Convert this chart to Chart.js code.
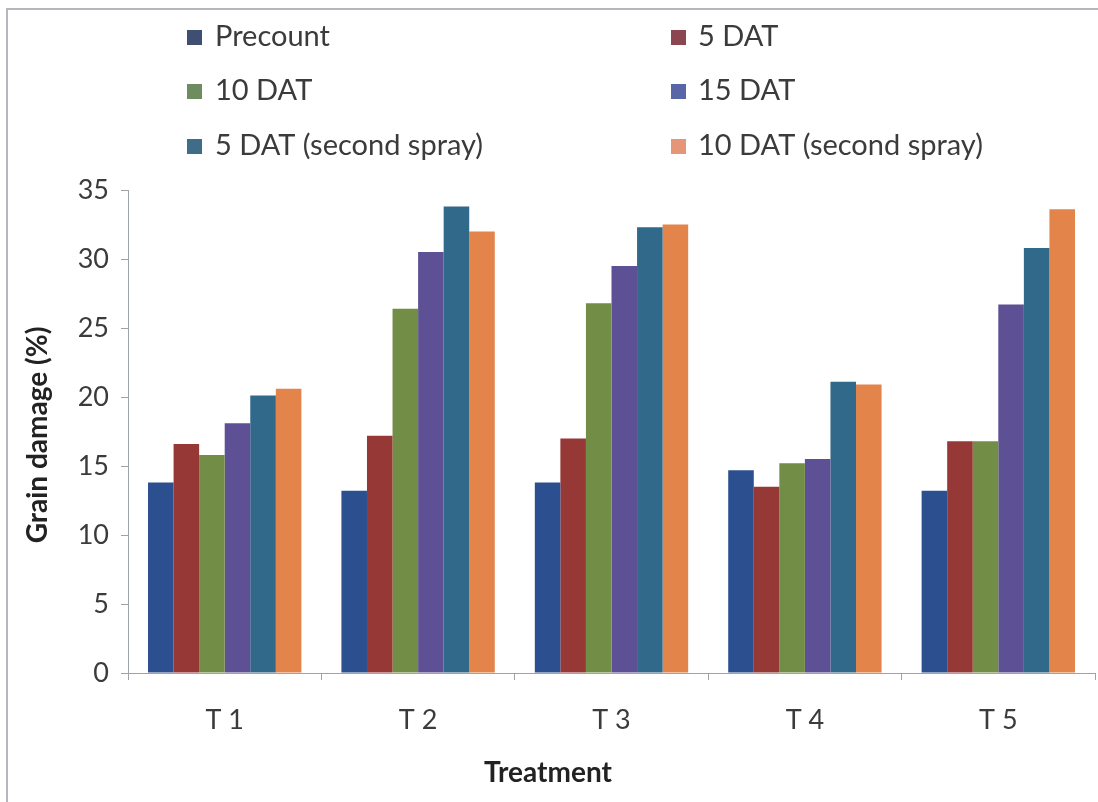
<!DOCTYPE html>
<html>
<head>
<meta charset="utf-8">
<script src="https://cdn.jsdelivr.net/npm/chart.js@4"></script>
<style>
  html, body { margin: 0; padding: 0; background: #ffffff; }
  #wrap { width: 1098px; height: 802px; position: relative; }
  canvas { display: block; }
</style>
</head>
<body>
<div id="wrap"><canvas id="chart" width="1098" height="802"></canvas></div>
<script>
// Treatments on the x axis
const categories = ['T 1', 'T 2', 'T 3', 'T 4', 'T 5'];

// Grain damage (%) per observation time
const precount    = [13.8, 13.2, 13.8, 14.7, 13.2];
const dat5        = [16.6, 17.2, 17.0, 13.5, 16.8];
const dat10       = [15.8, 26.4, 26.8, 15.2, 16.8];
const dat15       = [18.1, 30.5, 29.5, 15.5, 26.7];
const dat5Second  = [20.1, 33.8, 32.3, 21.1, 30.8];
const dat10Second = [20.6, 32.0, 32.5, 20.9, 33.6];

const seriesNames = ['Precount', '5 DAT', '10 DAT', '15 DAT', '5 DAT (second spray)', '10 DAT (second spray)'];
const seriesValues = [precount, dat5, dat10, dat15, dat5Second, dat10Second];
const seriesColors = ['#2c4f8f', '#963836', '#728d45', '#5e5094', '#31698a', '#e3844b'];
const legendColors = ['#3f4f74', '#8a4750', '#6f8b60', '#5866a8', '#3f6c88', '#e49676'];

// y axis: 0 to 35 in steps of 5
const yMin = 0, yMax = 35, yStep = 5;

const xTitle = 'Treatment';
const yTitle = 'Grain damage (%)';

const FONT = 'Lato, "Open Sans", sans-serif';
const TEXT = '#3b3b3b';
const AXIS = '#9ea3ab';

// Two-column legend above the plot
const gridLegend = {
  id: 'gridLegend',
  afterDraw(chart) {
    const ctx = chart.ctx;
    const colX = [187, 671];
    const rowY = [37, 91, 146];
    ctx.save();
    ctx.font = '29px ' + FONT;
    ctx.textBaseline = 'middle';
    ctx.textAlign = 'left';
    chart.data.datasets.forEach((ds, i) => {
      const x = colX[i % 2];
      const y = rowY[Math.floor(i / 2)];
      ctx.fillStyle = legendColors[i];
      ctx.fillRect(x, y - 7, 15, 15);
      ctx.fillStyle = TEXT;
      ctx.fillText(ds.label, x + (i % 2 ? 27 : 28), y);
    });
    ctx.restore();
  }
};

// Axis titles
const axisTitles = {
  id: 'axisTitles',
  afterDraw(chart) {
    const ctx = chart.ctx;
    ctx.save();
    ctx.fillStyle = '#222222';
    ctx.font = 'bold 28px ' + FONT;
    ctx.textAlign = 'center';
    ctx.textBaseline = 'middle';
    ctx.fillText(xTitle, 548, 773);
    ctx.translate(38, 435);
    ctx.rotate(-Math.PI / 2);
    ctx.fillText(yTitle, 0, 0);
    ctx.restore();
  }
};

// Thin grey frame around the whole figure
const frame = {
  id: 'frame',
  beforeDraw(chart) {
    const ctx = chart.ctx;
    ctx.save();
    ctx.fillStyle = '#ffffff';
    ctx.fillRect(0, 0, chart.width, chart.height);
    ctx.strokeStyle = '#b4b8bd';
    ctx.lineWidth = 2;
    ctx.beginPath();
    ctx.moveTo(7, chart.height + 2);
    ctx.lineTo(7, 9);
    ctx.lineTo(chart.width + 2, 9);
    ctx.stroke();
    ctx.restore();
  }
};

new Chart(document.getElementById('chart'), {
  type: 'bar',
  data: {
    labels: categories,
    datasets: seriesNames.map((name, i) => ({
      label: name,
      data: seriesValues[i],
      backgroundColor: seriesColors[i],
      borderWidth: 0,
      categoryPercentage: 0.793,
      barPercentage: 1.0
    }))
  },
  options: {
    responsive: false,
    animation: false,
    devicePixelRatio: 1,
    layout: { padding: { top: 190, left: 10, right: 3, bottom: 8 } },
    plugins: {
      legend: { display: false },
      tooltip: { enabled: false }
    },
    scales: {
      x: {
        grid: {
          display: true,
          drawOnChartArea: false,
          drawTicks: true,
          tickLength: 7,
          color: AXIS,
          offset: true
        },
        border: { display: true, color: AXIS, width: 1 },
        ticks: { font: { family: FONT, size: 27 }, color: TEXT, padding: 24 },
        afterFit(scale) { scale.height = 802 - 673 - 8; }
      },
      y: {
        min: yMin,
        max: yMax,
        grid: {
          display: true,
          drawOnChartArea: false,
          drawTicks: true,
          tickLength: 7,
          color: AXIS
        },
        border: { display: true, color: AXIS, width: 1 },
        ticks: { stepSize: yStep, font: { family: FONT, size: 27 }, color: TEXT, padding: 12 },
        afterFit(scale) { scale.width = 128 - 10; }
      }
    }
  },
  plugins: [frame, gridLegend, axisTitles]
});
</script>
</body>
</html>
